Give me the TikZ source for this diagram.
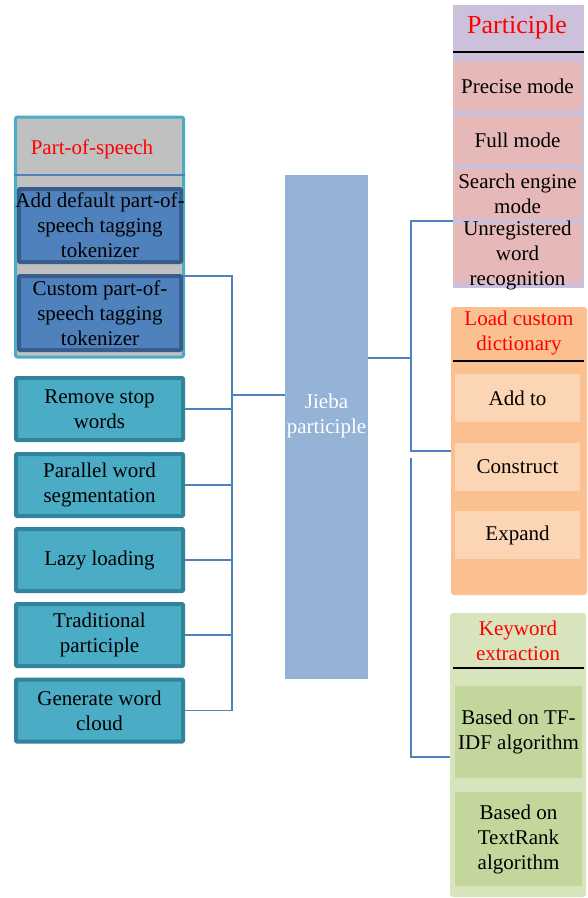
\documentclass[tikz,border=0pt]{standalone}
\usepackage{fontspec}
\setmainfont{Liberation Serif}
\definecolor{cyanB}{HTML}{4BACC6}
\definecolor{grayF}{HTML}{C0C0C0}
\definecolor{posF}{HTML}{4F81BD}
\definecolor{posB}{HTML}{385D8A}
\definecolor{tealF}{HTML}{4BACC6}
\definecolor{tealB}{HTML}{31849B}
\definecolor{jiebaF}{HTML}{95B3D7}
\definecolor{connC}{HTML}{4F81BD}
\definecolor{lavF}{HTML}{CCC0DA}
\definecolor{pinkF}{HTML}{E6B9B8}
\definecolor{peachF}{HTML}{FAC090}
\definecolor{lpeachF}{HTML}{FCD5B4}
\definecolor{grnF}{HTML}{D7E4BC}
\definecolor{grnD}{HTML}{C3D69B}
\begin{document}
\begin{tikzpicture}[x=1pt,y=-1pt,
  every node/.style={font=\fontsize{21}{25}\selectfont, align=center, inner sep=0pt},
  tealbox/.style={draw=tealB, line width=4pt, fill=tealF, minimum width=167pt, minimum height=62pt, rounded corners=1pt},
  posbox/.style={draw=posB, line width=4pt, fill=posF, minimum width=162pt, rounded corners=1pt},
  conn/.style={draw=connC, line width=1.5pt},
  divider/.style={draw=black, line width=2pt},
  pinkbox/.style={fill=pinkF, rounded corners=3pt, minimum width=129pt},
  peachbox/.style={fill=lpeachF, minimum width=125pt, minimum height=48pt},
  grnbox/.style={fill=grnD, minimum width=127pt},
  title/.style={text=red}]
\useasboundingbox (0,0) rectangle (588,898);

% ---- left: part-of-speech group
\node[fill=grayF, draw=cyanB, line width=3pt, rounded corners=2pt, minimum width=168pt, minimum height=240pt] (posgrp) at (99.5,237) {};
\coordinate (ph) at (0,175);
\draw[draw=connC, line width=2pt] (posgrp.west |- ph) -- (posgrp.east |- ph);
\node[title] (postitle) at (92,149) {Part-of-speech};
\node[posbox, minimum height=73pt] (pos1) at (100,225.5) {\makebox[0pt]{Add default part-of-}\\speech tagging\\tokenizer};
\node[posbox, minimum height=74pt] (pos2) at (100,313) {Custom part-of-\\speech tagging\\tokenizer};

% ---- left: feature boxes
\node[tealbox] (rem) at (99.5,409) {Remove stop\\words};
\node[tealbox] (par) at (99.5,485) {Parallel word\\segmentation};
\node[tealbox] (lazy) at (99.5,560) {Lazy loading};
\node[tealbox] (trad) at (99.5,635) {Traditional\\participle};
\node[tealbox] (gen) at (99.5,710.5) {Generate word\\cloud};

% ---- centre
\node[fill=jiebaF, minimum width=83pt, minimum height=504pt] (jieba) at (326.5,427) {};
\node[text=white] (jtext) at (326.5,416) {Jieba\\participle};

% ---- left connectors
\coordinate (lbusT) at (232,276);
\draw[conn] (pos2.east |- lbusT) -- (lbusT) |- (gen.east);
\foreach \n in {rem,par,lazy,trad} \draw[conn] (\n.east) -- (\n.east -| lbusT);
\coordinate (lj) at (232,395);
\draw[conn, line width=2.5pt] (lj) -- (lj -| jieba.west);

% ---- right: participle group
\node[fill=lavF, minimum width=131pt, minimum height=283pt] (partgrp) at (518.5,146.5) {};
\node[title, font=\fontsize{26}{30}\selectfont] (parttitle) at (517,27) {Participle};
\coordinate (pth) at (0,52);
\draw[divider] (partgrp.west |- pth) -- (partgrp.east |- pth);
\node[pinkbox, minimum height=48pt] (prec) at (517.5,86) {Precise mode};
\node[pinkbox, minimum height=48pt] (full) at (517.5,140) {Full mode};
\node[pinkbox, minimum height=49pt] (search) at (517.5,193.5) {Search engine\\mode};
\node[pinkbox, minimum height=59pt] (unregbox) at (517.5,252.5) {};
\node (unreg) at (517.5,255) {Unregistered\\word\\recognition};

% ---- right: load custom dictionary group
\node[fill=peachF, rounded corners=3pt, minimum width=136pt, minimum height=288pt] (loadgrp) at (519,451) {};
\node[title] (loadtitle) at (519,332.5) {Load custom\\dictionary};
\coordinate (lh) at (0,361);
\draw[divider] ([xshift=2pt]loadgrp.west |- lh) -- ([xshift=-3pt]loadgrp.east |- lh);
\node[peachbox] (add) at (517.5,398) {Add to};
\node[peachbox] (cons) at (517.5,467) {Construct};
\node[peachbox] (expd) at (517.5,535) {Expand};

% ---- right: keyword extraction group
\node[fill=grnF, rounded corners=3pt, minimum width=136pt, minimum height=284pt] (kwgrp) at (518,755) {};
\node[title] (kwtitle) at (518,640.5) {Keyword\\extraction};
\coordinate (kh) at (0,668);
\draw[divider] ([xshift=3pt]kwgrp.west |- kh) -- ([xshift=-2pt]kwgrp.east |- kh);
\node[grnbox, minimum height=92pt] (tfidf) at (518.5,732) {Based on TF-\\IDF algorithm};
\node[grnbox, minimum height=94pt] (textrank) at (518.5,839) {Based on\\TextRank\\algorithm};

% ---- right connectors
\coordinate (rj) at (411,358);
\draw[conn] (jieba.east |- rj) -- (rj);
\coordinate (rT) at (411,221);
\coordinate (rM) at (411,451);
\draw[conn] (partgrp.west |- rT) -- (rT) -- (rM) -- (loadgrp.west |- rM);
\coordinate (rG) at (411,458);
\coordinate (rB) at (411,757);
\draw[conn] (rG) -- (rB) -- (kwgrp.west |- rB);
\end{tikzpicture}
\end{document}
